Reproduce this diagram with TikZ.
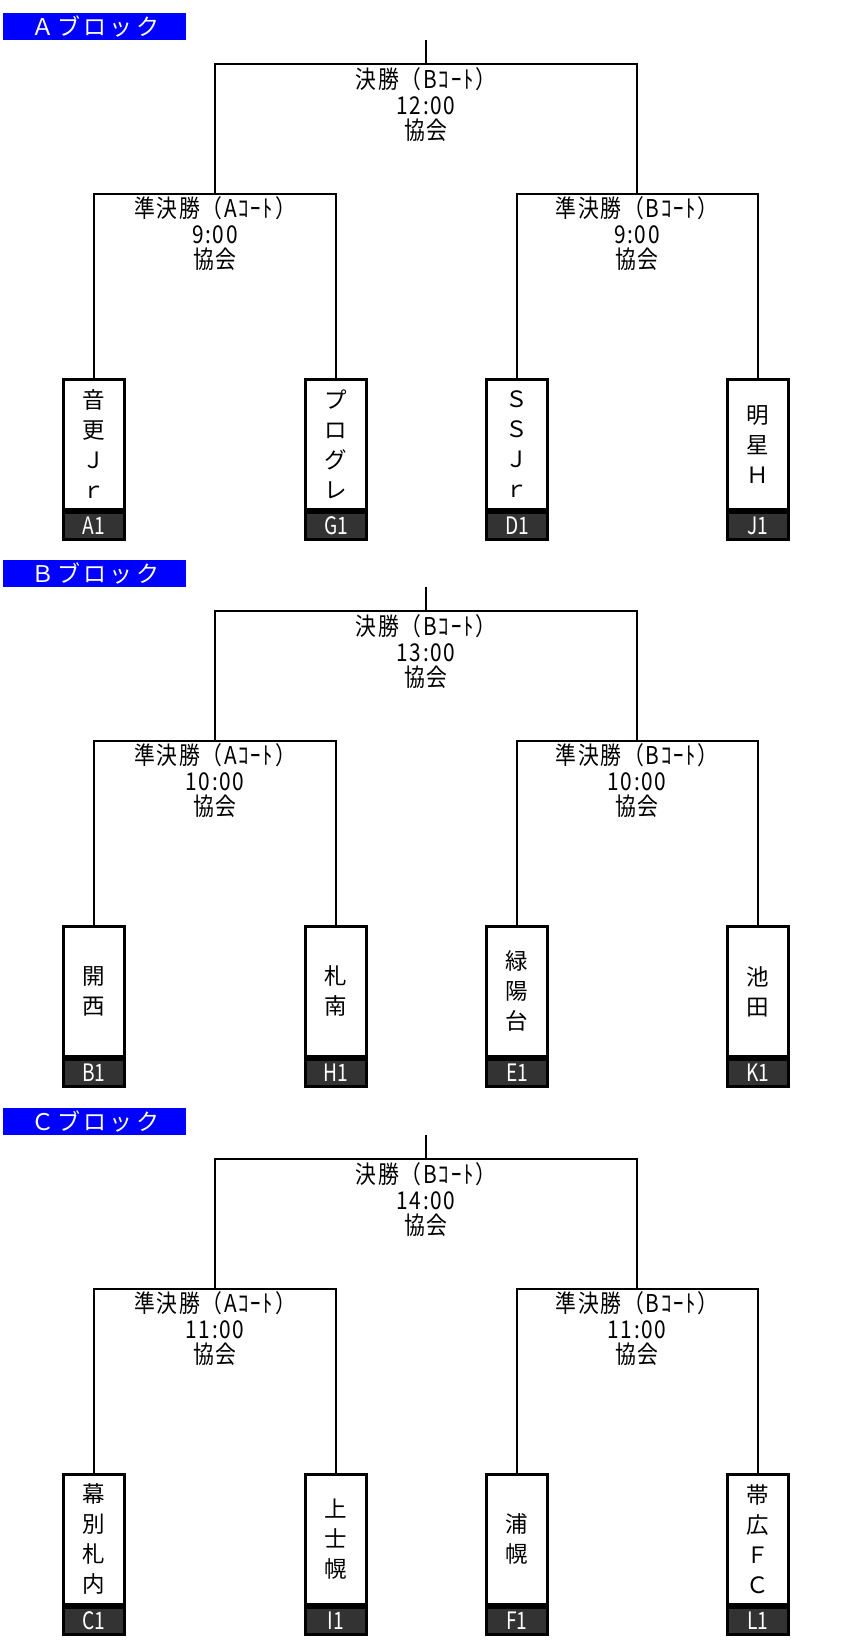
\documentclass[tikz,border=0pt]{standalone}
\usepackage{fontspec}
\setmainfont{Noto Sans CJK JP}
\newfontfamily\jpf{Noto Sans CJK JP}
\newfontfamily\jpcf[FakeStretch=0.85,LetterSpace=7]{Noto Sans CJK JP}
\newfontfamily\jpccf[FakeStretch=0.8]{Noto Sans CJK JP}
\newfontfamily\hdrf[LetterSpace=14]{Noto Sans CJK JP}
\definecolor{stripgray}{HTML}{333333}
\tikzset{
 link/.style={line width=2.5pt},
 stemline/.style={line width=2pt},
 namebox/.style={draw, line width=2.8pt, fill=white, minimum width=61pt, minimum height=130pt, inner sep=0pt, anchor=north, align=center, font=\jpf\fontsize{22.5}{30}\selectfont},
 codebox/.style={draw, line width=2.8pt, fill=stripgray, minimum width=61pt, minimum height=27pt, inner sep=0pt, anchor=north, text=white, font=\jpccf\fontsize{24}{24}\selectfont},
 matchlbl/.style={align=center, inner sep=0pt, font=\jpcf\fontsize{24.5}{25.5}\selectfont},
 hdrbox/.style={fill=blue, minimum width=183pt, minimum height=27pt, anchor=north west, inner sep=0pt},
 hdrtext/.style={text=white, anchor=west, inner sep=0pt, font=\hdrf\fontsize{23}{23}\selectfont},
}
\newcommand\blockframe[4]{%
 \node[hdrbox] (#1-hdr) at (3,13) {};
 \node[hdrtext] (#1-hdrt) at (31,26.5) {#2ブロック};
 \coordinate (#1-top) at (426,40);
 \coordinate (#1-fin) at (426,64);
 \coordinate (#1-sl) at (215,194);
 \coordinate (#1-sr) at (637,194);
 \draw[stemline] (#1-top) -- (#1-fin);
 \draw[link] (#1-sl) |- (#1-fin) -| (#1-sr);
 \node[matchlbl] (#1-fl) at (426,105) {決勝（Bｺｰﾄ）\\#3\\協会};
 \node[matchlbl] (#1-sll) at (215,234) {準決勝（Aｺｰﾄ）\\#4\\協会};
 \node[matchlbl] (#1-srl) at (637,234) {準決勝（Bｺｰﾄ）\\#4\\協会};
}
\newcommand\teamcard[5]{%
 \node[namebox] (#1-t#2) at (#3,378) {#4};
 \node[codebox] (#1-c#2) at (#1-t#2.south) {#5};
}
\newcommand\semilinks[1]{%
 \draw[link] (#1-t1.north) |- (#1-sl) -| (#1-t2.north);
 \draw[link] (#1-t3.north) |- (#1-sr) -| (#1-t4.north);
}
\begin{document}
\begin{tikzpicture}[x=1pt,y=-1pt]
\useasboundingbox (0,0) rectangle (858,1641);
\begin{scope}
 \blockframe{A}{Ａ}{12:00}{9:00}
 \teamcard{A}{1}{94}{音\\更\\Ｊ\\ｒ}{A1}
 \teamcard{A}{2}{336}{プ\\ロ\\グ\\レ}{G1}
 \teamcard{A}{3}{517}{Ｓ\\Ｓ\\Ｊ\\ｒ}{D1}
 \teamcard{A}{4}{758}{明\\星\\Ｈ}{J1}
 \semilinks{A}
\end{scope}
\begin{scope}[yshift=-547pt]
 \blockframe{B}{Ｂ}{13:00}{10:00}
 \teamcard{B}{1}{94}{開\\西}{B1}
 \teamcard{B}{2}{336}{札\\南}{H1}
 \teamcard{B}{3}{517}{緑\\陽\\台}{E1}
 \teamcard{B}{4}{758}{池\\田}{K1}
 \semilinks{B}
\end{scope}
\begin{scope}[yshift=-1095pt]
 \blockframe{C}{Ｃ}{14:00}{11:00}
 \teamcard{C}{1}{94}{幕\\別\\札\\内}{C1}
 \teamcard{C}{2}{336}{上\\士\\幌}{I1}
 \teamcard{C}{3}{517}{浦\\幌}{F1}
 \teamcard{C}{4}{758}{帯\\広\\Ｆ\\Ｃ}{L1}
 \semilinks{C}
\end{scope}
\end{tikzpicture}
\end{document}
